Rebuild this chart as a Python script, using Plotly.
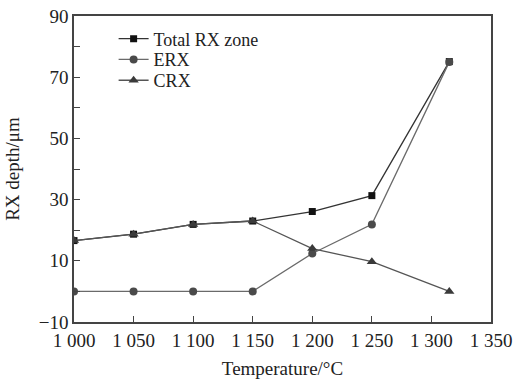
import plotly.graph_objects as go

temps = [1000, 1050, 1100, 1150, 1200, 1250, 1315]
total_rx = [16.6, 18.7, 21.9, 23.0, 26.1, 31.3, 75.1]
erx = [0.0, 0.0, 0.0, 0.0, 12.4, 21.9, 75.0]
crx = [16.6, 18.7, 21.9, 23.0, 14.0, 9.7, 0.0]

x_ticks = [1000, 1050, 1100, 1150, 1200, 1250, 1300, 1350]
x_labels = ["1 000", "1 050", "1 100", "1 150", "1 200", "1 250", "1 300", "1 350"]
y_ticks = [-10, 0, 10, 20, 30, 40, 50, 60, 70, 80, 90]
y_labels = ["\u221210", "", "10", "", "30", "", "50", "", "70", "", "90"]

FONT = "Liberation Serif"

fig = go.Figure()
fig.add_trace(go.Scatter(x=temps, y=total_rx, name="Total RX zone", mode="lines+markers",
                         legend="legend",
                         line=dict(color="#333333", width=1.3),
                         marker=dict(symbol="square", size=7, color="#111111")))
fig.add_trace(go.Scatter(x=temps, y=erx, name="ERX", mode="lines+markers",
                         legend="legend2",
                         line=dict(color="#6a6a6a", width=1.3),
                         marker=dict(symbol="circle", size=8, color="#4a4a4a")))
fig.add_trace(go.Scatter(x=temps, y=crx, name="CRX", mode="lines+markers",
                         legend="legend3",
                         line=dict(color="#555555", width=1.3),
                         marker=dict(symbol="triangle-up", size=9, color="#3a3a3a")))

axis_common = dict(showline=True, linecolor="#444444", linewidth=1.5, mirror=True,
                   ticks="inside", ticklen=6, tickwidth=1.2, tickcolor="#444444",
                   showgrid=False, zeroline=False, automargin=False,
                   tickfont=dict(family=FONT, size=19, color="#222222"))

leg_common = dict(x=0.095, xanchor="left", yanchor="middle",
                  bgcolor="rgba(0,0,0,0)", itemwidth=30,
                  font=dict(family=FONT, size=18, color="#222222"))

fig.update_layout(
    width=515, height=380,
    margin=dict(l=74, r=24, t=16, b=58),
    paper_bgcolor="white", plot_bgcolor="white",
    font=dict(family=FONT, size=19, color="#222222"),
    showlegend=True,
    legend=dict(y=0.925, **leg_common),
    legend2=dict(y=0.857, **leg_common),
    legend3=dict(y=0.789, **leg_common),
    xaxis=dict(range=[1000, 1350], tickvals=x_ticks, ticktext=x_labels,
               title=dict(text="Temperature/\u00b0C", font=dict(family=FONT, size=19), standoff=12),
               **axis_common),
    yaxis=dict(range=[-10, 90], tickvals=y_ticks, ticktext=y_labels,
               title=dict(text="RX depth/\u03bcm", font=dict(family=FONT, size=19), standoff=14),
               **axis_common),
)

fig.write_html("out.html")
